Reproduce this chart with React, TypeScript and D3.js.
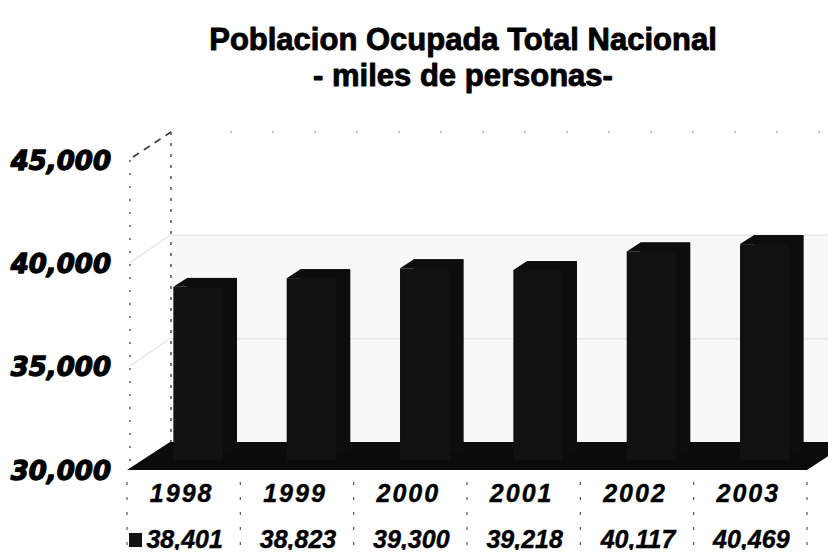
import { useRef, useEffect } from "react";
import * as d3 from "d3";

const years = ["1998", "1999", "2000", "2001", "2002", "2003"];
const ocupados = [38401, 38823, 39300, 39218, 40117, 40469];
const valueLabels = ["38,401", "38,823", "39,300", "39,218", "40,117", "40,469"];
const yTicks = [30000, 35000, 40000, 45000];
const titleLines = ["Poblacion Ocupada Total Nacional", "- miles de personas-"];

const W = 836;
const H = 558;

export default function App() {
  const svgRef = useRef<SVGSVGElement>(null);

  useEffect(() => {
    const svg = d3.select(svgRef.current);
    svg.selectAll("*").remove();

    // front plane of the 3D box
    const left = 127;
    const right = 807;
    const x = d3
      .scaleBand<string>()
      .domain(years)
      .range([left, right])
      .paddingInner(0.56)
      .paddingOuter(0.28);
    const y = d3.scaleLinear().domain([30000, 45000]).range([470, 160]);

    // depth of the box (front -> back wall)
    const dx = 43;
    const dy = -28;
    const d0 = 0.34;
    const d1 = 0.66;
    const base = y(30000);

    svg.append("rect").attr("width", W).attr("height", H).attr("fill", "#fff");

    const clip = svg.append("g");

    // faint shading of back wall below 40,000
    clip
      .append("rect")
      .attr("x", left + dx)
      .attr("y", y(40000) + dy)
      .attr("width", W - left - dx)
      .attr("height", y(30000) - y(40000))
      .attr("fill", "#f8f8f8");

    // gridlines on the walls
    yTicks.slice(1, 3).forEach((t) => {
      clip
        .append("polyline")
        .attr("points", `${left + 2},${y(t)} ${left + dx},${y(t) + dy} ${W},${y(t) + dy}`)
        .attr("fill", "none")
        .attr("stroke", "#e8e8e8")
        .attr("stroke-width", 1.5);
    });

    // left wall outline (dashed, faded scan look)
    const wall = clip.append("g").attr("stroke", "#333").attr("fill", "none");
    wall
      .append("line")
      .attr("x1", left + 3)
      .attr("x2", left + 3)
      .attr("y1", y(45000))
      .attr("y2", base)
      .attr("stroke-dasharray", "2,11")
      .attr("stroke-width", 1.2);
    wall
      .append("line")
      .attr("x1", left + dx + 1)
      .attr("x2", left + dx + 1)
      .attr("y1", y(45000) + dy)
      .attr("y2", base + dy)
      .attr("stroke-dasharray", "3,8")
      .attr("stroke-width", 1.3);
    wall
      .append("line")
      .attr("x1", left + 6)
      .attr("x2", left + dx + 1)
      .attr("y1", y(45000) - 3)
      .attr("y2", y(45000) + dy)
      .attr("stroke-dasharray", "7,6")
      .attr("stroke-width", 1.6);
    wall
      .append("line")
      .attr("x1", left + dx + 60)
      .attr("x2", W)
      .attr("y1", y(45000) + dy)
      .attr("y2", y(45000) + dy)
      .attr("stroke", "#888")
      .attr("stroke-dasharray", "2,40")
      .attr("stroke-width", 1);

    // floor
    clip
      .append("polygon")
      .attr(
        "points",
        [
          [left, base],
          [left + dx, base + dy],
          [right + dx, base + dy],
          [right, base],
        ]
          .map((p) => p.join(","))
          .join(" ")
      )
      .attr("fill", "#0b0b0b");

    // bars
    years.forEach((yr, i) => {
      const v = ocupados[i];
      const bx = x(yr)!;
      const bw = x.bandwidth();
      const fx = bx + dx * d0;
      const fy = dy * d0;
      const bxx = bx + dx * d1;
      const byy = dy * d1;
      const top = y(v);
      const g = clip.append("g").attr("fill", "#0d0d0d");
      g.append("rect")
        .attr("x", bxx)
        .attr("y", top + byy)
        .attr("width", bw)
        .attr("height", base - top);
      g.append("polygon").attr(
        "points",
        [
          [fx, top + fy],
          [fx + bw, top + fy],
          [bxx + bw, top + byy],
          [bxx, top + byy],
        ]
          .map((p) => p.join(","))
          .join(" ")
      );
      g.append("rect")
        .attr("x", fx)
        .attr("y", top + fy)
        .attr("width", bw)
        .attr("height", base - top)
        .attr("fill", "#111");
    });

    // value axis labels
    svg
      .append("g")
      .selectAll("text")
      .data(yTicks)
      .join("text")
      .attr("x", 111)
      .attr("y", (d) => y(d))
      .attr("dy", "0.37em")
      .attr("text-anchor", "end")
      .attr("font-family", "'DejaVu Sans', sans-serif")
      .attr("font-weight", "bold")
      .attr("font-style", "italic")
      .attr("font-size", 26)
      .attr("fill", "#000")
      .attr("stroke", "#000")
      .attr("stroke-width", 1.3)
      .attr("stroke-linejoin", "round")
      .text((d) => d3.format(",")(d));

    // title
    svg
      .append("g")
      .selectAll("text")
      .data(titleLines)
      .join("text")
      .attr("x", 463)
      .attr("y", (_, i) => 50 + i * 36)
      .attr("text-anchor", "middle")
      .attr("font-family", "'Liberation Sans', Arial, sans-serif")
      .attr("font-weight", "bold")
      .attr("font-size", 31)
      .attr("fill", "#000")
      .attr("stroke", "#000")
      .attr("stroke-width", 0.9)
      .attr("stroke-linejoin", "round")
      .text((d) => d);

    // data table
    const table = svg.append("g");
    const step = x.step();
    const edges = d3.range(years.length + 1).map((k) => left + k * step);
    table
      .selectAll("line")
      .data(edges)
      .join("line")
      .attr("x1", (d) => d)
      .attr("x2", (d) => d)
      .attr("y1", 482)
      .attr("y2", 556)
      .attr("stroke", "#555")
      .attr("stroke-width", 1.2)
      .attr("stroke-dasharray", "3,12");

    const tableFont = (sel: any) =>
      sel
        .attr("font-family", "'Liberation Sans', Arial, sans-serif")
        .attr("font-weight", "bold")
        .attr("font-style", "italic")
        .attr("font-size", 25)
        .attr("fill", "#000")
        .attr("stroke", "#000")
        .attr("stroke-width", 0.4)
        .attr("text-anchor", "middle");

    table
      .append("g")
      .selectAll("text")
      .data(years)
      .join("text")
      .attr("x", (d) => x(d)! + x.bandwidth() / 2 - 2)
      .attr("y", 502)
      .call(tableFont)
      .attr("letter-spacing", 2)
      .text((d) => d);

    table
      .append("g")
      .selectAll("text")
      .data(valueLabels)
      .join("text")
      .attr("x", (_, i) => x(years[i])! + x.bandwidth() / 2 + 1)
      .attr("y", 548)
      .call(tableFont)
      .text((d) => d);

    // legend key
    table
      .append("rect")
      .attr("x", 129)
      .attr("y", 533)
      .attr("width", 13)
      .attr("height", 14)
      .attr("fill", "#111");
  }, []);

  return (
    <div style={{ width: W, height: H, margin: -8, overflow: "hidden" }}>
      <svg ref={svgRef} width={W} height={H} style={{ display: "block" }} />
    </div>
  );
}
